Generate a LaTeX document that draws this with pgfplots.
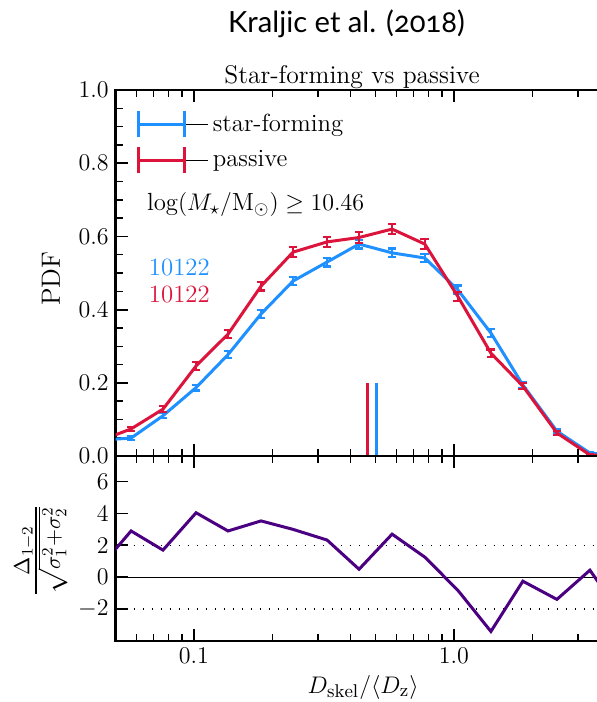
\documentclass[border=0pt]{standalone}
\usepackage{fontspec}
\usepackage{amsmath}
\usepackage{pgfplots}
\pgfplotsset{compat=1.18}
\usepackage{pgfplotstable}
\newfontfamily\titlefont[Numbers=OldStyle]{Lato}
\definecolor{sfblue}{RGB}{30,144,255}
\definecolor{pasred}{RGB}{220,20,60}
\definecolor{sigpurple}{RGB}{75,0,130}

\pgfplotstableread{
x b be r re
0.0429 0.043 0.004 0.040 0.004
0.0573 0.049 0.005 0.074 0.006
0.0760 0.110 0.007 0.128 0.008
0.1019 0.187 0.008 0.246 0.010
0.1352 0.277 0.009 0.333 0.011
0.1811 0.388 0.010 0.464 0.012
0.2404 0.478 0.011 0.557 0.013
0.3251 0.530 0.012 0.585 0.013
0.4315 0.579 0.012 0.597 0.014
0.5781 0.555 0.012 0.620 0.014
0.7727 0.541 0.012 0.579 0.013
1.035  0.454 0.012 0.436 0.012
1.387  0.336 0.011 0.281 0.010
1.841  0.194 0.008 0.191 0.008
2.489  0.068 0.005 0.063 0.005
3.334  0.008 0.002 0.003 0.002
4.46   0.000 0.000 0.000 0.000
}\pdfdata

\pgfplotstableread{
x s
0.0429 0.5
0.0573 2.9
0.0760 1.7
0.1019 4.04
0.1352 2.9
0.1811 3.53
0.2404 3.0
0.3251 2.33
0.4315 0.5
0.5781 2.7
0.7727 1.26
1.035  -0.82
1.387  -3.4
1.841  -0.25
2.489  -1.39
3.334  0.44
4.46   -2.5
}\sigdata

\pgfplotsset{
  bluelegend/.style={legend image code/.code={
    \path (0pt,0pt) -- (35pt,0pt);
    \draw[sfblue, line width=1.5pt] (0pt,0pt) -- (23pt,0pt);
    \draw[sfblue, line width=1.5pt] (0pt,-6.5pt) -- (0pt,6.5pt);
    \draw[sfblue, line width=1.5pt] (23pt,-6.5pt) -- (23pt,6.5pt);}},
  redlegend/.style={legend image code/.code={
    \path (0pt,0pt) -- (35pt,0pt);
    \draw[pasred, line width=1.5pt] (0pt,0pt) -- (23pt,0pt);
    \draw[pasred, line width=1.5pt] (0pt,-6.5pt) -- (0pt,6.5pt);
    \draw[pasred, line width=1.5pt] (23pt,-6.5pt) -- (23pt,6.5pt);}},
}

\begin{document}
\begin{tikzpicture}
\useasboundingbox (0,0) rectangle (298.5pt,-351pt);
\node[anchor=base, font=\titlefont\fontsize{14.6}{17}\selectfont] at (173.25pt,-16pt) {Kraljic et al. (2018)};
\node[anchor=base, font=\fontsize{12.8}{15}\selectfont] at (176pt,-41.5pt) {Star-forming vs passive};

\begin{axis}[
  xmode=log, xmin=0.05, xmax=4,
  scale only axis, width=247.4pt,
  axis line style={line width=1.25pt},
  major tick style={black, line width=0.9pt},
  minor tick style={black, line width=0.7pt},
  major tick length=6pt, minor tick length=3.5pt,
  tick align=inside,
  xtick={0.1,1},
  minor xtick={0.06,0.07,0.08,0.09,0.2,0.3,0.4,0.5,0.6,0.7,0.8,0.9,2,3,4},
  tick label style={font=\fontsize{12}{14}\selectfont},
  label style={font=\fontsize{13.2}{15}\selectfont},
  at={(57.85pt,-45pt)}, anchor=north west, height=183pt,
  ymin=0, ymax=1,
  ytick={0,0.2,0.4,0.6,0.8,1},
  yticklabels={$0.0$,$0.2$,$0.4$,$0.6$,$0.8$,$1.0$},
  minor y tick num=3,
  xticklabels={},
  ylabel={PDF},
  ylabel style={at={(axis description cs:-0.131,0.484)}, anchor=center},
  legend style={at={(axis description cs:0.03,0.958)}, anchor=north west,
    draw=none, fill=none, font=\fontsize{12.4}{14}\selectfont,
    row sep=3.5pt},
  legend cell align=left,
]
\addlegendimage{bluelegend}
\addlegendentry{star-forming}
\addlegendimage{redlegend}
\addlegendentry{passive}

\addplot[sfblue, line width=1.5pt, mark=none, forget plot,
  error bars/.cd, y dir=both, y explicit,
  error bar style={line width=1.1pt},
  error mark options={rotate=90, mark size=2.2pt, line width=1.1pt, sfblue}]
  table[x=x, y=b, y error=be] {\pdfdata};
\addplot[pasred, line width=1.5pt, mark=none, forget plot,
  error bars/.cd, y dir=both, y explicit,
  error bar style={line width=1.1pt},
  error mark options={rotate=90, mark size=2.2pt, line width=1.1pt, pasred}]
  table[x=x, y=r, y error=re] {\pdfdata};

\addplot[pasred, line width=1.5pt, forget plot] coordinates {(0.4637,0) (0.4637,0.2)};
\addplot[sfblue, line width=1.5pt, forget plot] coordinates {(0.5058,0) (0.5058,0.2)};

\node[anchor=west, font=\fontsize{12.4}{14}\selectfont] at (axis description cs:0.049,0.686) {$\log(M_\star/\mathrm{M}_\odot) \geq 10.46$};
\node[anchor=west, text=sfblue, font=\fontsize{12.4}{14}\selectfont] at (axis description cs:0.053,0.516) {10122};
\node[anchor=west, text=pasred, font=\fontsize{12.4}{14}\selectfont] at (axis description cs:0.053,0.44) {10122};
\end{axis}

\begin{axis}[
  xmode=log, xmin=0.05, xmax=4,
  scale only axis, width=247.4pt,
  axis line style={line width=1.25pt},
  major tick style={black, line width=0.9pt},
  minor tick style={black, line width=0.7pt},
  major tick length=6pt, minor tick length=3.5pt,
  tick align=inside,
  xtick={0.1,1},
  minor xtick={0.06,0.07,0.08,0.09,0.2,0.3,0.4,0.5,0.6,0.7,0.8,0.9,2,3,4},
  tick label style={font=\fontsize{12}{14}\selectfont},
  label style={font=\fontsize{13.2}{15}\selectfont},
  at={(57.85pt,-228pt)}, anchor=north west, height=92.5pt,
  ymin=-4, ymax=7.6,
  ytick={-2,0,2,4,6},
  minor ytick={},
  xticklabels={$0.1$,$1.0$},
  xlabel={$D_{\mathrm{skel}}/\langle D_{\mathrm{z}}\rangle$},
  xlabel style={at={(axis description cs:0.5,-0.249)}, anchor=center},
  ylabel={$\frac{\Delta_{1-2}}{\sqrt{\sigma_1^2+\sigma_2^2}}$},
  ylabel style={at={(axis description cs:-0.151,0.49)}, anchor=center, font=\fontsize{15.5}{18}\selectfont},
]
\addplot[black, line width=0.65pt] coordinates {(0.05,0) (4,0)};
\addplot[black, line width=0.8pt, dash pattern=on 0.8pt off 3.7pt] coordinates {(0.05,2) (4,2)};
\addplot[black, line width=0.8pt, dash pattern=on 0.8pt off 3.7pt] coordinates {(0.05,-2) (4,-2)};
\addplot[sigpurple, line width=1.5pt, mark=none] table[x=x, y=s] {\sigdata};
\end{axis}
\end{tikzpicture}
\end{document}
